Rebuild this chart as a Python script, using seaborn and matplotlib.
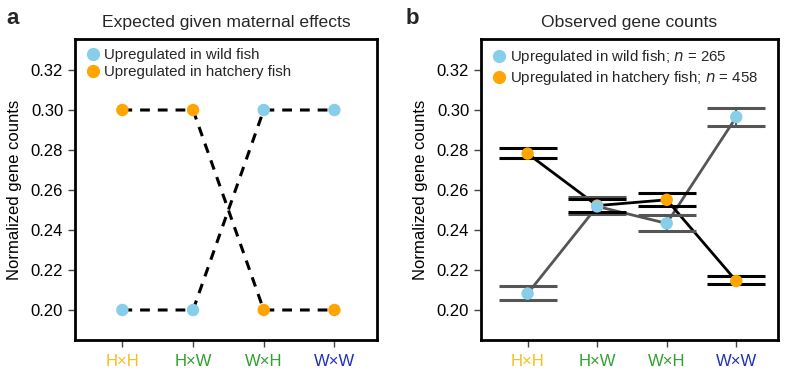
import numpy as np
import pandas as pd
import seaborn as sns
import matplotlib.pyplot as plt
from matplotlib.lines import Line2D

# ── Data ──────────────────────────────────────────────────────────────────────

CROSSES = ['H×H', 'H×W', 'W×H', 'W×W']
CROSS_COLORS = ['#f5c01a', '#2ea02e', '#2ea02e', '#1f2fb8']

# panel a: expected under maternal effects
EXP_WILD = [0.20, 0.20, 0.30, 0.30]
EXP_HATCH = [0.30, 0.30, 0.20, 0.20]

# panel b: observed means and error bar bounds
OBS_WILD = [0.2082, 0.2518, 0.2433, 0.2965]
OBS_WILD_LO = [0.2049, 0.2482, 0.2395, 0.2921]
OBS_WILD_HI = [0.2120, 0.2563, 0.2474, 0.3011]
OBS_HATCH = [0.2782, 0.2522, 0.2551, 0.2145]
OBS_HATCH_LO = [0.2761, 0.2488, 0.2521, 0.2128]
OBS_HATCH_HI = [0.2811, 0.2555, 0.2587, 0.2168]

N_WILD, N_HATCH = 265, 458

BLUE = '#87ceeb'
ORANGE = '#ffa500'
YTICKS = [0.20, 0.22, 0.24, 0.26, 0.28, 0.30, 0.32]

# ── Style ─────────────────────────────────────────────────────────────────────

sns.set_theme(style='ticks')
plt.rcParams.update({
    'font.family': ['Liberation Sans', 'DejaVu Sans'],
    'axes.linewidth': 2.0,
    'axes.edgecolor': 'black',
    'xtick.major.size': 5,
    'ytick.major.size': 5,
    'xtick.major.width': 1.0,
    'ytick.major.width': 1.0,
    'xtick.color': '#444444',
    'ytick.color': '#444444',
    'xtick.labelsize': 12,
    'ytick.labelsize': 12,
})

fig = plt.figure(figsize=(7.88, 3.73), dpi=100)
ax_a = fig.add_axes([0.0952, 0.0885, 0.3830, 0.8069])
ax_b = fig.add_axes([0.6104, 0.0885, 0.3769, 0.8069])

x = np.arange(len(CROSSES))
DOT = 80


def _style(ax, title):
    for s in ax.spines.values():
        s.set_visible(True)
        s.set_linewidth(2.0)
    ax.set_xlim(-0.67, 3.6)
    ax.set_ylim(0.185, 0.3355)
    ax.set_yticks(YTICKS)
    ax.set_yticklabels([f'{v:.2f}' for v in YTICKS], color='black')
    ax.set_xticks(x)
    ax.set_xticklabels(CROSSES)
    for lab, c in zip(ax.get_xticklabels(), CROSS_COLORS):
        lab.set_color(c)
    ax.tick_params(axis='x', pad=5)
    ax.set_xlabel('')
    ax.set_ylabel('Normalized gene counts', fontsize=12, color='black', labelpad=6)
    ax.set_title(title, fontsize=12.6, pad=9)


def _legend(ax, labels):
    handles = [Line2D([], [], marker='o', ls='', color=BLUE, markersize=8.5),
               Line2D([], [], marker='o', ls='', color=ORANGE, markersize=8.5)]
    ax.legend(handles, labels, loc='upper left', frameon=False, fontsize=10.8,
              handletextpad=0.15, labelspacing=0.2, borderaxespad=0.3,
              borderpad=0.3, handlelength=1.2)


# ── Panel a ───────────────────────────────────────────────────────────────────

df_a = pd.DataFrame({
    'x': np.concatenate([x, x]),
    'y': EXP_WILD + EXP_HATCH,
    'group': ['wild'] * 4 + ['hatch'] * 4,
})
sns.lineplot(data=df_a, x='x', y='y', units='group', estimator=None,
             color='black', lw=2.2, ax=ax_a,
             linestyle=(0, (3.2, 2.6)), zorder=2)
sns.scatterplot(data=df_a, x='x', y='y', hue='group',
                palette={'wild': BLUE, 'hatch': ORANGE},
                s=DOT, edgecolor='none', legend=False, ax=ax_a, zorder=3)
_style(ax_a, 'Expected given maternal effects')
_legend(ax_a, ['Upregulated in wild fish', 'Upregulated in hatchery fish'])

# ── Panel b ───────────────────────────────────────────────────────────────────

df_b = pd.DataFrame({
    'x': np.concatenate([x, x]),
    'y': OBS_HATCH + OBS_WILD,
    'lo': OBS_HATCH_LO + OBS_WILD_LO,
    'hi': OBS_HATCH_HI + OBS_WILD_HI,
    'group': ['hatch'] * 4 + ['wild'] * 4,
})
line_cols = {'wild': '#555555', 'hatch': 'black'}
for g in ['wild', 'hatch']:
    d = df_b[df_b['group'] == g]
    sns.lineplot(data=d, x='x', y='y', estimator=None, color=line_cols[g],
                 lw=2.0, ax=ax_b, zorder=2)
    ax_b.errorbar(d['x'], d['y'], yerr=[d['y'] - d['lo'], d['hi'] - d['y']],
                  fmt='none', ecolor=line_cols[g], elinewidth=1.5,
                  capsize=21, capthick=2.2, zorder=2.5)
# hatchery rows first so the wild dots sit on top where they overlap
sns.scatterplot(data=df_b, x='x', y='y', hue='group',
                palette={'wild': BLUE, 'hatch': ORANGE},
                s=DOT, edgecolor='none', legend=False, ax=ax_b, zorder=3)
_style(ax_b, 'Observed gene counts')
_legend(ax_b, [f'Upregulated in wild fish; $n$ = {N_WILD}',
               f'Upregulated in hatchery fish; $n$ = {N_HATCH}'])

# panel letters
fig.text(0.008, 0.935, 'a', fontsize=16, fontweight='bold')
fig.text(0.515, 0.935, 'b', fontsize=16, fontweight='bold')

fig.savefig('out.png', dpi=100)
